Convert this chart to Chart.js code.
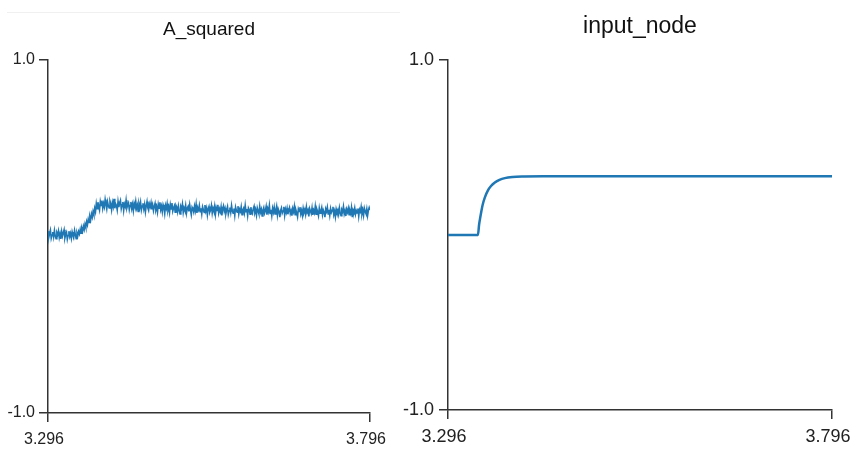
<!DOCTYPE html>
<html>
<head>
<meta charset="utf-8">
<title>A_squared / input_node</title>
<script src="https://cdn.jsdelivr.net/npm/chart.js@4/dist/chart.umd.min.js"></script>
<style>
  body { margin: 0; background: #fff; }
  #wrap { position: relative; width: 854px; height: 453px; overflow: hidden; }
  .panel { position: absolute; top: 0; height: 453px; }
  #left { left: 0; width: 400px; }
  #right { left: 400px; width: 454px; }
  #topline { position: absolute; top: 12px; left: 7px; width: 393px; border-top: 1px solid #f0f0f0; }
</style>
</head>
<body>
<div id="wrap">
  <div id="topline"></div>
  <div class="panel" id="left"><canvas id="aSquaredChart" width="400" height="453"></canvas></div>
  <div class="panel" id="right"><canvas id="inputNodeChart" width="454" height="453"></canvas></div>
</div>
<script>
// time window shown on both plots
const tStart = 3.296;
const tEnd = 3.796;
const sampleStep = 0.00125;

// A_squared samples, one every sampleStep from tStart
const aSquared = [
  0.030, -0.004, 0.018, 0.036, -0.010, 0.008, 0.026, -0.002, 0.034, 0.004,
  -0.012, 0.022, 0.010, 0.032, -0.006, 0.016, -0.014, 0.028, 0.002, 0.020,
  0.038, -0.008, 0.012, 0.024, -0.016, 0.006, 0.030, 0.000, 0.018, -0.010,
  0.026, 0.008, -0.004, 0.034, 0.010, -0.012, 0.020, 0.004, 0.028, 0.014,
  0.040, 0.018, 0.046, 0.030, 0.058, 0.040, 0.070, 0.052, 0.084, 0.066,
  0.098, 0.080, 0.112, 0.094, 0.128, 0.110, 0.142, 0.124, 0.160, 0.140,
  0.186, 0.158, 0.194, 0.170, 0.150, 0.198, 0.176, 0.204, 0.160, 0.188,
  0.168, 0.210, 0.182, 0.156, 0.196, 0.174, 0.162, 0.200, 0.184, 0.152,
  0.192, 0.170, 0.214, 0.160, 0.186, 0.176, 0.150, 0.198, 0.166, 0.190,
  0.204, 0.158, 0.180, 0.196, 0.148, 0.184, 0.170, 0.206, 0.162, 0.178,
  0.190, 0.152, 0.176, 0.196, 0.158, 0.182, 0.146, 0.188, 0.170, 0.200,
  0.160, 0.178, 0.142, 0.186, 0.166, 0.194, 0.150, 0.172, 0.188, 0.156,
  0.182, 0.140, 0.174, 0.198, 0.162, 0.148, 0.184, 0.168, 0.192, 0.154,
  0.178, 0.146, 0.170, 0.188, 0.150, 0.166, 0.138, 0.182, 0.160, 0.194,
  0.152, 0.172, 0.140, 0.180, 0.164, 0.130, 0.176, 0.158, 0.186, 0.148,
  0.168, 0.136, 0.180, 0.156, 0.190, 0.144, 0.162, 0.174, 0.138, 0.176,
  0.166, 0.140, 0.174, 0.150, 0.128, 0.170, 0.158, 0.184, 0.136, 0.162,
  0.148, 0.176, 0.132, 0.160, 0.170, 0.142, 0.180, 0.150, 0.124, 0.166,
  0.156, 0.138, 0.172, 0.146, 0.182, 0.134, 0.162, 0.150, 0.176, 0.140,
  0.160, 0.128, 0.168, 0.152, 0.136, 0.178, 0.144, 0.162, 0.122, 0.156,
  0.170, 0.138, 0.150, 0.176, 0.132, 0.160, 0.144, 0.172, 0.126, 0.164,
  0.148, 0.180, 0.134, 0.156, 0.140, 0.168, 0.120, 0.158, 0.174, 0.142,
  0.160, 0.130, 0.152, 0.170, 0.126, 0.146, 0.164, 0.136, 0.176, 0.144,
  0.132, 0.158, 0.120, 0.166, 0.148, 0.138, 0.172, 0.128, 0.154, 0.142,
  0.168, 0.124, 0.150, 0.160, 0.134, 0.176, 0.140, 0.156, 0.118, 0.162,
  0.152, 0.126, 0.166, 0.140, 0.130, 0.158, 0.172, 0.134, 0.148, 0.120,
  0.162, 0.144, 0.128, 0.170, 0.138, 0.154, 0.116, 0.150, 0.164, 0.132,
  0.146, 0.170, 0.124, 0.158, 0.140, 0.176, 0.130, 0.152, 0.118, 0.160,
  0.138, 0.166, 0.128, 0.150, 0.172, 0.122, 0.156, 0.142, 0.110, 0.148,
  0.162, 0.132, 0.144, 0.168, 0.120, 0.154, 0.136, 0.160, 0.126, 0.150,
  0.164, 0.130, 0.146, 0.118, 0.158, 0.140, 0.170, 0.124, 0.150, 0.134,
  0.112, 0.156, 0.142, 0.166, 0.128, 0.148, 0.120, 0.160, 0.136, 0.152,
  0.126, 0.168, 0.138, 0.150, 0.114, 0.158, 0.144, 0.130, 0.162, 0.122,
  0.148, 0.134, 0.170, 0.126, 0.154, 0.140, 0.118, 0.160, 0.132, 0.146,
  0.164, 0.124, 0.150, 0.138, 0.110, 0.156, 0.142, 0.166, 0.128, 0.152,
  0.120, 0.158, 0.136, 0.148, 0.168, 0.124, 0.144, 0.112, 0.156, 0.138,
  0.150, 0.126, 0.162, 0.134, 0.118, 0.152, 0.142, 0.170, 0.128, 0.146,
  0.116, 0.154, 0.138, 0.160, 0.124, 0.148, 0.132, 0.164, 0.110, 0.150,
  0.140, 0.162, 0.126, 0.146, 0.134, 0.158, 0.114, 0.152, 0.140, 0.168,
  0.128, 0.150, 0.120, 0.160, 0.142, 0.130, 0.156, 0.118, 0.148, 0.164,
  0.150
];

// input_node: flat, then first order rise to its plateau
const inputTimes = [3.296, 3.335, 3.3365, 3.338, 3.341, 3.344, 3.348, 3.352, 3.357, 3.363, 3.370, 3.380, 3.395, 3.420, 3.796];
const inputValues = [0.0, 0.0, 0.06, 0.10, 0.17, 0.215, 0.255, 0.28, 0.30, 0.315, 0.325, 0.331, 0.334, 0.336, 0.336];

const yTicks = [-1.0, 1.0];
const xTicks = [tStart, tEnd];

const lineColor = '#1f77b4';
const axisColor = '#333';

Chart.defaults.font.family = '"Liberation Sans", Arial, sans-serif';
Chart.defaults.color = '#222';

// d3 style axes: domain line plus outer ticks only
function axes(yWidth, xHeight, fontSize, xPad, yPad) {
  return {
    x: {
      type: 'linear',
      min: tStart,
      max: tEnd,
      afterBuildTicks: s => { s.ticks = xTicks.map(v => ({ value: v })); },
      // end labels may hang past the plot, the layout padding handles it
      afterFit: s => { s.height = xHeight; s.paddingLeft = 0; s.paddingRight = 0; },
      ticks: { font: { size: fontSize }, padding: xPad, labelOffset: -4, maxRotation: 0, autoSkip: false, callback: v => v.toFixed(3) },
      grid: { drawOnChartArea: false, tickLength: 9, color: axisColor, lineWidth: 1.5 },
      border: { color: axisColor, width: 1.5 }
    },
    y: {
      min: -1,
      max: 1,
      afterBuildTicks: s => { s.ticks = yTicks.map(v => ({ value: v })); },
      afterFit: s => { s.width = yWidth; },
      ticks: { font: { size: fontSize }, padding: yPad, callback: v => v.toFixed(1) },
      grid: { drawOnChartArea: false, tickLength: 9, color: axisColor, lineWidth: 1.5 },
      border: { color: axisColor, width: 1.5 }
    }
  };
}

function titleOpts(text, size, top, bottom) {
  return {
    display: true,
    text,
    fullSize: false,
    color: '#111',
    font: { size, weight: 'normal' },
    padding: { top, bottom }
  };
}

new Chart(document.getElementById('aSquaredChart'), {
  type: 'line',
  data: {
    datasets: [{
      label: 'A_squared',
      data: aSquared.map((v, i) => ({ x: tStart + i * sampleStep, y: v })),
      borderColor: lineColor,
      borderWidth: 1.6,
      pointRadius: 0,
      tension: 0
    }]
  },
  options: {
    responsive: false,
    animation: false,
    layout: { padding: { left: 0, right: 30, top: 0, bottom: 0 } },
    plugins: { legend: { display: false }, tooltip: { enabled: false }, title: titleOpts('A_squared', 19, 18, 19.2) },
    scales: axes(48, 40, 16, 8, 4)
  }
});

new Chart(document.getElementById('inputNodeChart'), {
  type: 'line',
  data: {
    datasets: [{
      label: 'input_node',
      data: inputTimes.map((t, i) => ({ x: t, y: inputValues[i] })),
      borderColor: lineColor,
      borderWidth: 2.5,
      pointRadius: 0,
      cubicInterpolationMode: 'monotone'
    }]
  },
  options: {
    responsive: false,
    animation: false,
    layout: { padding: { left: 0, right: 22, top: 0, bottom: 0 } },
    plugins: { legend: { display: false }, tooltip: { enabled: false }, title: titleOpts('input_node', 23, 13, 19.4) },
    scales: axes(48, 43, 18, 7, 5)
  }
});
</script>
</body>
</html>
